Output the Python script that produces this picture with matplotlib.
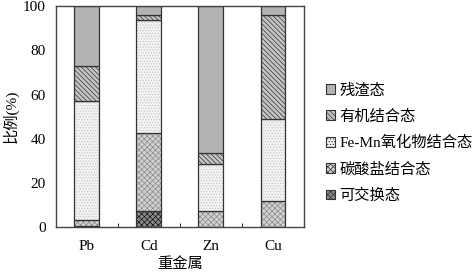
import matplotlib

matplotlib.use("Agg")
import matplotlib.pyplot as plt
from matplotlib.patches import Patch

plt.rcParams["font.family"] = ["Liberation Serif", "Noto Sans CJK SC"]
plt.rcParams["hatch.linewidth"] = 0.5

metals = ["Pb", "Cd", "Zn", "Cu"]
fractions = ["可交换态", "碳酸盐结合态", "Fe-Mn氧化物结合态", "有机结合态", "残渣态"]
exchangeable = [0.6, 7.4, 0.0, 0.0]
carbonate = [2.6, 35.4, 7.5, 12.0]
fe_mn = [53.9, 50.9, 21.0, 36.9]
organic = [15.6, 2.1, 4.9, 47.2]
residual = [27.3, 4.2, 66.6, 3.9]
series = [exchangeable, carbonate, fe_mn, organic, residual]

# face, hatch, hatch colour per fraction
styles = [
    ("#8a8a8a", "xxxxxx", "#111111"),
    ("#d2d2d2", "xxxxxx", "#8a8a8a"),
    ("#f2f2f2", "......", "#c4c4c4"),
    ("#c4c4c4", "\\\\\\\\\\\\\\", "#333333"),
    ("#b3b3b3", "", "#b3b3b3"),
]

fig = plt.figure(figsize=(4.72, 2.74), dpi=100)
ax = fig.add_axes([0.118, 0.170, 0.526, 0.808])
x = range(len(metals))
bottom = [0.0] * len(metals)
for vals, (fc, hatch, hc) in zip(series, styles):
    ax.bar(x, vals, 0.4, bottom=bottom, color=fc, hatch=hatch,
           edgecolor=hc, linewidth=0)
    ax.bar(x, vals, 0.4, bottom=bottom, fill=False,
           edgecolor="#333333", linewidth=0.9)
    bottom = [b + v for b, v in zip(bottom, vals)]

ax.set_xlim(-0.5, 3.5)
ax.set_ylim(0, 100)
ax.set_xticks(list(x))
ax.set_xticklabels(metals)
ax.set_xticks([0.5, 1.5, 2.5], minor=True)
ax.tick_params(axis="x", which="major", length=0, pad=9, labelsize=11)
ax.tick_params(axis="x", which="minor", direction="in", length=3)
ax.set_yticks([0, 20, 40, 60, 80, 100])
ax.tick_params(axis="y", length=0, pad=7, labelsize=11)
for s in ax.spines.values():
    s.set_color("#444444")
    s.set_linewidth(1.0)
ax.set_ylabel("比例(%)", fontsize=11, labelpad=3)
ax.set_xlabel("重金属", fontsize=11, labelpad=3)

handles = []
for name, (fc, hatch, hc) in list(zip(fractions, styles))[::-1]:
    handles.append(Patch(facecolor=fc, hatch=hatch, edgecolor="#333333",
                         linewidth=0.8, label=name))
fig.legend(handles=handles, loc="center left", bbox_to_anchor=(0.674, 0.478),
           frameon=False, fontsize=11, handlelength=0.6, handleheight=0.6,
           handletextpad=0.3, labelspacing=0.8, borderpad=0)

fig.savefig("out.png", dpi=100, facecolor="white")
